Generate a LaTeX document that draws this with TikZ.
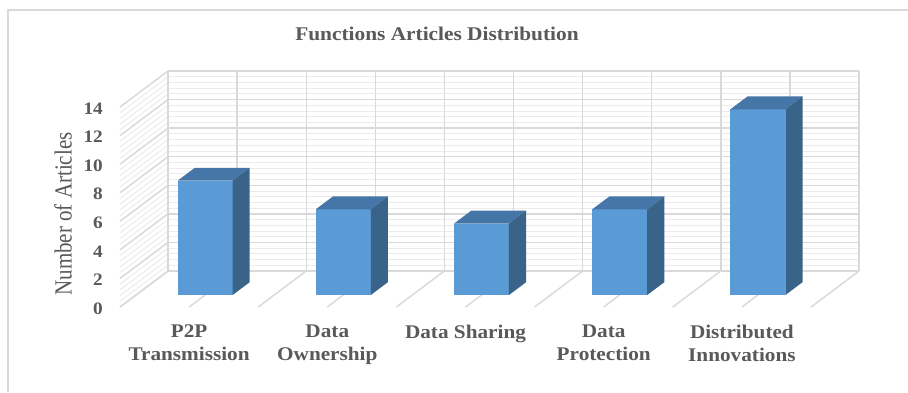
\documentclass[tikz,border=0pt]{standalone}
\usepackage{fontspec}
\setmainfont[FakeStretch=1.1]{Liberation Serif}
\newfontfamily\axisserif{Liberation Serif}
\usepackage{graphicx}

% 3-D projection: back-wall x (u), value (v), depth d (0 = front, 1 = back)
\newcommand{\cpt}[3]{({(#1)-48*(1-(#3))},{271-(#2)*14.2857+36*(1-(#3))})}

\definecolor{gridmajor}{HTML}{D9D9D9}
\definecolor{gridminor}{HTML}{EBEBEB}
\definecolor{txtgray}{HTML}{595959}
\definecolor{barfrontc}{HTML}{5B9BD5}
\definecolor{bartopc}{HTML}{4576A7}
\definecolor{barsidec}{HTML}{3A6389}

\tikzset{
  majorline/.style={draw=gridmajor, line width=1.4pt},
  minorline/.style={draw=gridminor, line width=0.9pt},
  frameline/.style={draw=gridmajor, line width=1.3pt},
  barfront/.style={fill=barfrontc},
  bartop/.style={fill=bartopc},
  barside/.style={fill=barsidec},
  titletext/.style={text=txtgray, inner sep=0pt, font=\fontsize{19.4}{23}\selectfont\bfseries},
  ticklabel/.style={text=txtgray, inner sep=0pt, font=\fontsize{17.5}{20}\selectfont\bfseries},
  catlabel/.style={text=txtgray, inner sep=0pt, align=center, font=\fontsize{19.3}{23}\selectfont\bfseries},
  axistitle/.style={text=txtgray, inner sep=0pt, font=\axisserif\fontsize{21}{25}\selectfont},
}

\begin{document}
\begin{tikzpicture}[x=1pt, y=-1pt]
  \useasboundingbox (0,0) rectangle (908,392);
  \fill[white] (0,0) rectangle (908,392);

  % chart area frame (left and top edges)
  \draw[frameline] (8,392) -- (8,10) -- (908,10);

  % minor gridlines: back wall and left wall
  \foreach \m in {0,...,35} {
    \pgfmathsetmacro\vv{\m*0.4}
    \draw[minorline] \cpt{168}{\vv}{1} -- \cpt{859}{\vv}{1};
    \draw[minorline] \cpt{168}{\vv}{0} -- \cpt{168}{\vv}{1};
  }
  % major gridlines
  \foreach \v in {0,2,...,14} {
    \draw[majorline] \cpt{168}{\v}{1} -- \cpt{859}{\v}{1};
    \draw[majorline] \cpt{168}{\v}{0} -- \cpt{168}{\v}{1};
  }
  % vertical lines on the back wall and depth lines on the floor
  \foreach \k in {0,...,10} {
    \pgfmathsetmacro\uu{168+69.1*\k}
    \draw[majorline] \cpt{\uu}{0}{1} -- \cpt{\uu}{14}{1};
    \draw[majorline] \cpt{\uu}{0}{0} -- \cpt{\uu}{0}{1};
  }

  % bars
  \foreach \i/\val in {0/8,1/6,2/5,3/6,4/13} {
    \pgfmathsetmacro\uL{237.1+138.2*\i-27.5}
    \pgfmathsetmacro\uR{237.1+138.2*\i+27.5}
    \fill[barfront] \cpt{\uL}{0}{0.333} rectangle \cpt{\uR}{\val}{0.333};
    \fill[bartop] \cpt{\uL}{\val}{0.333} -- \cpt{\uR}{\val}{0.333}
      -- \cpt{\uR}{\val}{0.69} -- \cpt{\uL}{\val}{0.69} -- cycle;
    \fill[barside] \cpt{\uR}{0}{0.333} -- \cpt{\uR}{\val}{0.333}
      -- \cpt{\uR}{\val}{0.69} -- \cpt{\uR}{0}{0.69} -- cycle;
  }

  % value axis labels
  \foreach \v in {0,2,...,14} {
    \node[ticklabel, anchor=east] (yt\v) at (103,{307-\v*14.2857+1.5}) {\v};
  }

  % axis title
  \node[axistitle, rotate=90] (ytitle) at (63,214)
    {\scalebox{1}[1.17]{Number of Articles}};

  % chart title
  \node[titletext, anchor=base] (title) at (437,40) {Functions Articles Distribution};

  % category labels
  \node[catlabel, anchor=north] (c1) at (189.1,325) {P2P\\Transmission};
  \node[catlabel, anchor=north] (c2) at (327.3,325) {Data\\Ownership};
  \node[catlabel, anchor=north] (c3) at (465.5,325) {Data Sharing};
  \node[catlabel, anchor=north] (c4) at (603.7,325) {Data\\Protection};
  \node[catlabel, anchor=north] (c5) at (741.9,325) {Distributed\\Innovations};
\end{tikzpicture}
\end{document}
